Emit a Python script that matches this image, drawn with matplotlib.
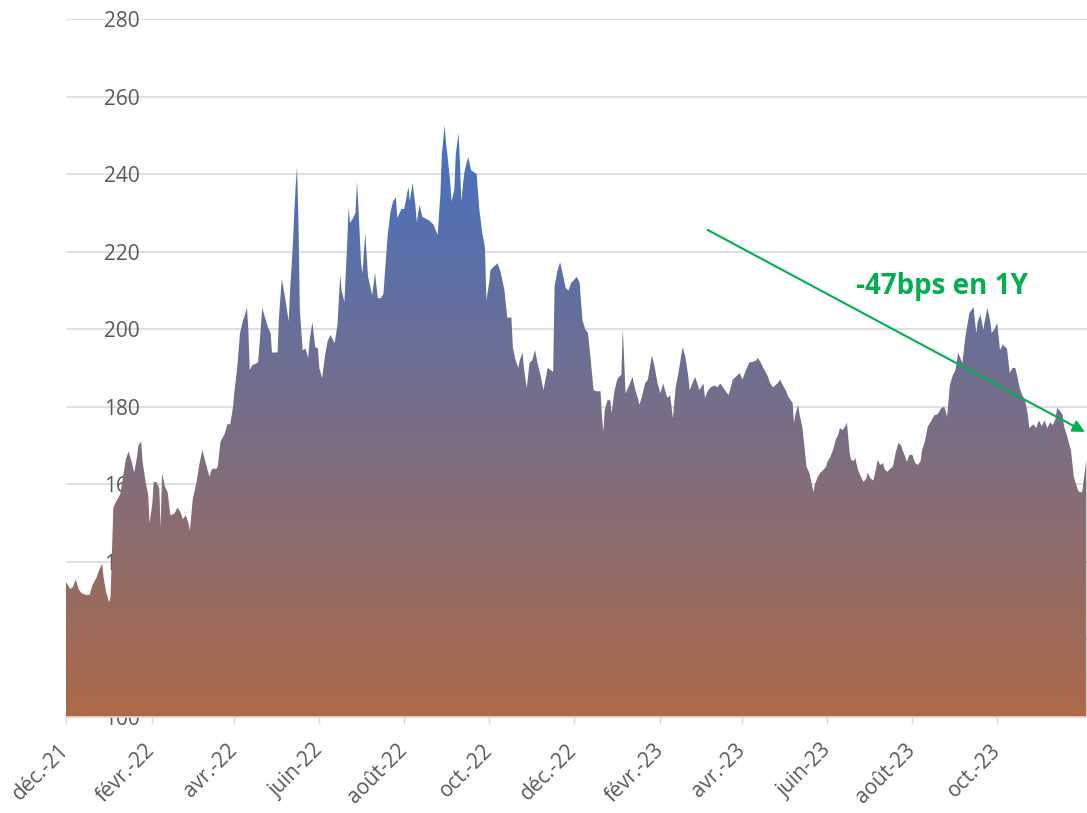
import numpy as np
import matplotlib
matplotlib.use("Agg")
import matplotlib.pyplot as plt
import matplotlib.dates as mdates
from matplotlib.colors import LinearSegmentedColormap

# spread series, x = days since 2021-12-01
start_date = np.datetime64("2021-12-01")
days = [0, 3, 5, 7, 9, 11, 14, 17, 19, 22, 24, 26, 27, 29, 31, 32, 34, 36, 39, 41,
        43, 45, 47, 49, 51, 52, 54, 55, 57, 59, 60, 62, 63, 65, 67, 68, 69, 71, 73, 75,
        78, 80, 82, 84, 86, 88, 89, 91, 94, 96, 98, 100, 103, 105, 108, 109, 111, 114, 116, 118,
        120, 121, 123, 125, 127, 130, 131, 132, 134, 136, 138, 139, 141, 143, 145, 147, 148, 150, 152, 153,
        155, 157, 160, 161, 163, 164, 165, 166, 167, 168, 170, 172, 174, 175, 177, 179, 181, 182, 184, 186,
        188, 190, 193, 195, 197, 198, 200, 202, 203, 204, 206, 208, 209, 210, 212, 213, 215, 217, 218, 220,
        222, 224, 226, 228, 231, 233, 235, 237, 238, 241, 243, 246, 247, 249, 251, 252, 254, 256, 259, 261,
        264, 267, 269, 270, 272, 273, 274, 276, 277, 279, 280, 282, 283, 284, 286, 287, 289, 291, 293, 295,
        297, 299, 301, 302, 304, 305, 307, 310, 312, 313, 315, 317, 319, 320, 321, 323, 325, 326, 328, 329,
        331, 332, 333, 335, 337, 339, 341, 343, 345, 346, 348, 350, 351, 353, 355, 357, 359, 361, 363, 365,
        367, 369, 371, 373, 375, 377, 379, 381, 384, 385, 386, 387, 389, 391, 392, 394, 396, 398, 399, 400,
        402, 404, 407, 409, 411, 412, 414, 416, 418, 421, 423, 425, 427, 429, 432, 434, 436, 438, 440, 443,
        445, 447, 448, 450, 452, 454, 455, 458, 459, 461, 463, 466, 468, 470, 472, 474, 476, 478, 479, 482,
        484, 486, 488, 491, 493, 496, 497, 499, 501, 504, 506, 508, 511, 513, 515, 517, 519, 520, 522, 523,
        524, 526, 527, 529, 531, 532, 534, 537, 538, 540, 542, 544, 546, 547, 549, 551, 553, 555, 556, 558,
        560, 561, 563, 564, 566, 567, 569, 571, 573, 575, 576, 578, 580, 582, 583, 585, 587, 588, 590, 592,
        594, 596, 598, 600, 601, 603, 604, 606, 608, 610, 612, 614, 615, 617, 619, 621, 624, 626, 629, 631,
        633, 635, 637, 639, 641, 642, 644, 646, 648, 649, 652, 653, 654, 655, 657, 659, 660, 662, 664, 665,
        667, 669, 671, 673, 676, 678, 680, 682, 684, 685, 687, 689, 691, 692, 695, 697, 699, 701, 703, 705,
        707, 709, 711, 712, 714, 716, 717, 719, 721, 722, 724, 727, 728, 730, 733]
spread = [134.8, 133.0, 133.5, 135.5, 133.0, 132.0, 131.5, 131.5, 134.0, 136.0, 138.0, 139.5, 136.0, 132.0, 129.6, 131.0, 154.0, 155.5, 157.5, 162.0,
          166.5, 168.5, 166.0, 163.0, 167.0, 170.0, 171.0, 166.0, 161.0, 157.5, 150.0, 155.0, 160.6, 160.6, 159.0, 148.7, 163.0, 159.5, 158.0, 152.0,
          152.5, 154.0, 153.0, 151.0, 152.0, 150.0, 148.0, 156.0, 161.0, 165.5, 168.8, 166.0, 162.0, 164.0, 164.0, 164.5, 171.0, 173.0, 175.5, 175.5,
          180.0, 184.0, 190.0, 199.0, 202.0, 205.5, 200.0, 189.5, 190.8, 191.0, 191.5, 196.0, 205.5, 203.0, 200.6, 199.0, 194.0, 194.0, 194.0, 203.0,
          213.0, 209.0, 202.0, 210.0, 222.0, 230.0, 237.0, 241.8, 228.0, 205.0, 194.6, 195.0, 192.6, 197.0, 201.9, 195.4, 195.0, 190.0, 187.4, 193.0,
          197.0, 198.5, 196.4, 201.0, 214.0, 210.0, 207.0, 222.0, 231.5, 227.4, 228.5, 230.0, 238.0, 232.0, 217.0, 214.5, 224.8, 213.5, 212.0, 208.8,
          214.5, 208.0, 208.0, 209.0, 223.8, 230.0, 233.0, 234.0, 228.7, 231.0, 231.0, 236.7, 233.0, 237.7, 232.0, 227.6, 232.0, 229.0, 228.4, 228.0,
          227.0, 224.3, 235.0, 245.0, 252.6, 248.0, 245.0, 238.0, 233.0, 236.0, 245.0, 250.6, 243.0, 233.0, 240.0, 241.8, 244.4, 241.0, 240.5, 240.0,
          230.7, 225.0, 221.0, 207.5, 212.0, 215.3, 216.0, 217.0, 215.0, 213.5, 210.0, 203.0, 203.0, 203.0, 195.4, 192.0, 190.0, 192.0, 194.0, 190.0,
          184.8, 188.0, 191.3, 192.0, 194.6, 190.8, 188.0, 184.3, 188.0, 190.0, 189.5, 189.0, 211.0, 215.0, 217.3, 214.0, 210.6, 210.0, 212.0, 212.7,
          213.5, 212.0, 202.4, 200.0, 199.0, 192.0, 184.3, 184.0, 184.0, 178.0, 173.5, 179.0, 181.7, 181.7, 178.4, 184.0, 187.0, 188.0, 188.2, 200.3,
          183.5, 185.0, 187.7, 184.3, 182.0, 180.5, 183.0, 186.0, 187.0, 193.3, 190.0, 186.0, 183.5, 186.0, 182.3, 183.0, 177.0, 185.0, 188.7, 195.4,
          192.8, 188.0, 184.3, 186.0, 187.7, 185.5, 184.3, 186.0, 182.3, 184.0, 185.0, 185.5, 185.0, 186.0, 185.0, 184.0, 183.0, 185.5, 187.0, 188.0,
          188.7, 187.0, 189.0, 191.5, 191.5, 192.0, 192.6, 191.5, 190.0, 188.0, 186.0, 185.0, 186.0, 187.0, 185.5, 184.3, 182.5, 182.0, 181.0, 175.8,
          178.0, 180.5, 178.0, 174.8, 168.0, 164.5, 163.0, 158.0, 160.0, 161.9, 163.0, 163.7, 164.5, 165.8, 167.0, 168.8, 171.5, 173.0, 174.5, 174.0,
          175.0, 176.0, 168.0, 166.3, 166.0, 166.8, 163.7, 162.0, 160.6, 161.5, 163.0, 161.5, 161.0, 164.0, 166.3, 165.0, 165.5, 164.0, 163.2, 164.0,
          164.5, 168.0, 170.7, 170.0, 168.8, 167.0, 165.8, 167.6, 167.6, 165.5, 165.0, 166.0, 168.8, 171.0, 174.8, 176.0, 177.9, 178.0, 179.7, 180.0,
          177.4, 185.6, 188.0, 189.5, 194.0, 193.0, 191.3, 197.7, 202.0, 204.2, 205.7, 202.0, 199.0, 202.0, 203.7, 199.8, 202.0, 205.5, 202.0, 199.0,
          200.0, 201.6, 194.6, 196.0, 195.0, 188.7, 190.0, 190.0, 187.0, 185.0, 183.0, 181.7, 178.0, 174.5, 175.5, 174.5, 176.5, 175.0, 176.5, 174.5,
          176.0, 175.3, 177.0, 179.7, 179.0, 177.9, 175.0, 172.7, 170.0, 168.8, 161.9, 158.5, 158.0, 158.0, 166.3]

tick_dates = ["2021-12-01", "2022-02-01", "2022-04-01", "2022-06-01", "2022-08-01", "2022-10-01",
              "2022-12-01", "2023-02-01", "2023-04-01", "2023-06-01", "2023-08-01", "2023-10-01"]
tick_labels = ["déc.-21", "févr.-22", "avr.-22", "juin-22", "août-22", "oct.-22",
               "déc.-22", "févr.-23", "avr.-23", "juin-23", "août-23", "oct.-23"]
y_ticks = [100, 120, 140, 160, 180, 200, 220, 240, 260, 280]

arrow_start = ("2023-03-07", 225.6)
arrow_end = ("2023-12-03", 173.5)
note_pos = ("2023-08-22", 211.0)
note_text = "-47bps en 1Y"

plt.rcParams["font.family"] = ["Open Sans", "DejaVu Sans"]

dates = start_date + np.array(days)
xnum = mdates.date2num(dates)

fig = plt.figure(figsize=(10.87, 8.13), dpi=100)
ax = fig.add_axes([66 / 1087, 1 - 717 / 813, 1 - 66 / 1087, (717 - 19) / 813])

# gradient fill under the curve
cmap = LinearSegmentedColormap.from_list("spread", ["#AD6A48", "#786E86", "#4472C4"])
grad = np.linspace(0, 1, 256).reshape(-1, 1)
poly = ax.fill_between(xnum, spread, 100, color="none", lw=0)
im = ax.imshow(grad, cmap=cmap, aspect="auto", origin="lower",
               extent=[xnum[0], xnum[-1], 100, max(spread)], zorder=1)
im.set_clip_path(poly.get_paths()[0], transform=ax.transData)

ax.set_xlim(xnum[0], xnum[-1] + 0.5)
ax.set_ylim(100, 280)

ax.set_axisbelow(True)
ax.set_yticks(y_ticks)
ax.grid(axis="y", color="#D9D9D9", lw=1.2)
ax.tick_params(axis="y", length=0, pad=-53, labelsize=15, labelcolor="#595959")

ax.set_xticks(mdates.date2num(np.array(tick_dates, dtype="datetime64[D]")))
ax.set_xticklabels(tick_labels, rotation=45, ha="right", va="center", rotation_mode="anchor")
ax.tick_params(axis="x", length=5, color="#D9D9D9", width=1, pad=17, labelsize=15, labelcolor="#595959")

for s in ["left", "right", "top"]:
    ax.spines[s].set_visible(False)
ax.spines["bottom"].set_color("#D9D9D9")
ax.spines["bottom"].set_linewidth(1.2)

def dnum(d):
    return mdates.date2num(np.datetime64(d))

ax.annotate("", xy=(dnum(arrow_end[0]), arrow_end[1]),
            xytext=(dnum(arrow_start[0]), arrow_start[1]),
            arrowprops=dict(arrowstyle="-|>", color="#00B050", lw=1.5,
                            mutation_scale=18, shrinkA=0, shrinkB=0),
            annotation_clip=False, zorder=5)
ax.text(dnum(note_pos[0]), note_pos[1], note_text, color="#00B050", fontsize=20,
        fontweight="bold", ha="center", va="center", zorder=6)

fig.savefig("out.png", dpi=100)
